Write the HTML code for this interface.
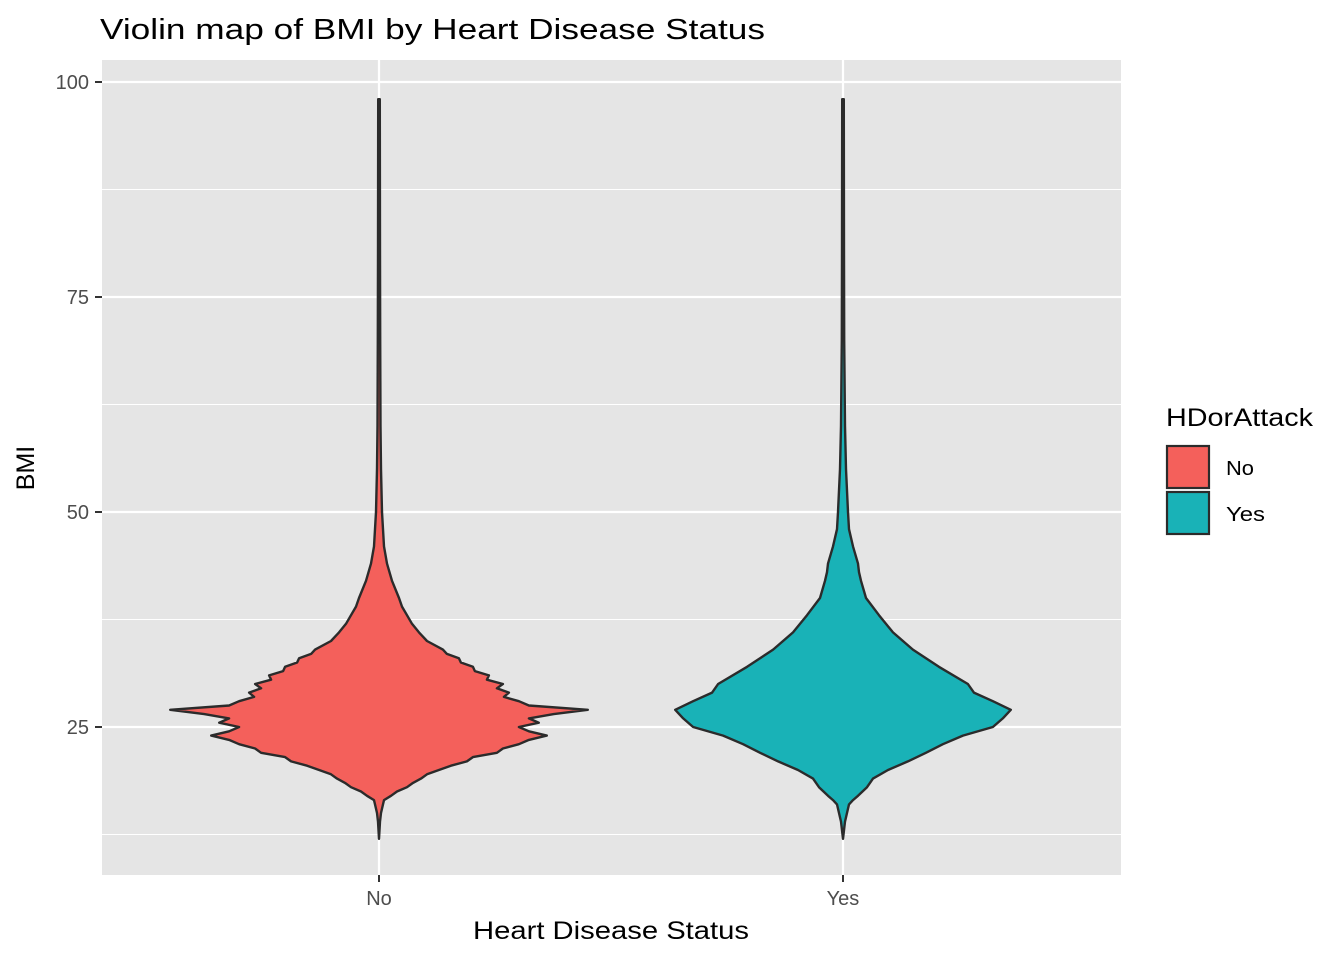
<!DOCTYPE html>
<html><head><meta charset="utf-8"><style>
body{margin:0;background:#fff;}
svg text{font-family:"Liberation Sans",Arial,sans-serif;}
</style></head><body>
<svg id="chart" width="1344" height="960" xmlns="http://www.w3.org/2000/svg">
<rect x="0" y="0" width="1344" height="960" fill="#fff"/>
<text x="100" y="39" font-size="29" textLength="665" lengthAdjust="spacingAndGlyphs" fill="#000">Violin map of BMI by Heart Disease Status</text>
<rect x="102" y="60" width="1019" height="815" fill="#e5e5e5"/>
<g id="grid"></g>
<g id="violins"></g>
<g id="axes"></g>
<text x="611" y="939" font-size="25" text-anchor="middle" textLength="276" lengthAdjust="spacingAndGlyphs" fill="#000">Heart Disease Status</text>
<text transform="translate(34,468) rotate(-90)" font-size="25" text-anchor="middle" fill="#000">BMI</text>
<g>
<text x="1166" y="426" font-size="25" textLength="147" lengthAdjust="spacingAndGlyphs" fill="#000">HDorAttack</text>
<rect x="1167" y="446" width="42" height="42" fill="#f4605b" stroke="#2b2b2b" stroke-width="2.2"/>
<text x="1226" y="475" font-size="20" textLength="28" lengthAdjust="spacingAndGlyphs" fill="#000">No</text>
<rect x="1167" y="492" width="42" height="42" fill="#19b2b7" stroke="#2b2b2b" stroke-width="2.2"/>
<text x="1226" y="521" font-size="20" textLength="39" lengthAdjust="spacingAndGlyphs" fill="#000">Yes</text>
</g>
</svg>
<script>
const categories = ["No","Yes"];
const yTicks = [25,50,75,100];
const yMinor = [12.5,37.5,62.5,87.5];
const bmiNo = [12,14,15,16,16.5,17,17.5,18,18.5,19,19.5,20,20.5,21,21.5,22,22.5,23,23.5,24,24.5,25,25.5,26,26.5,27,27.5,28,28.5,29,29.5,30,30.5,31,31.5,32,32.5,33,33.5,34,35,36,37,38,39,40,42,44,46,48,50,55,60,70,80,98];
const densityNo = [0,1,2,4,5,12,18,28,34,42,48,60,72,88,94,118,124,140,150,168,150,140,160,150,175,209,150,140,125,130,118,124,108,110,96,94,82,80,68,64,48,40,33,28,23,20,13,8,5,4,3,2,1.5,1.2,1,0.8];
const bmiYes = [12,14,16,16.5,17,18,19,20,21,22,23,24,25,26,27,28,29,30,32,34,36,38,40,42,43,44,46,48,50,55,60,70,80,98];
const densityYes = [0,2,6,10,15,24,30,45,65,83,100,120,150,160,168,150,131,125,96,70,50,36,23,18,16,15,10,6,5,3,2,1.2,1,0.8];
const fills = ["#f4605b","#19b2b7"];
const SVGNS="http://www.w3.org/2000/svg";
const panel={x0:102,x1:1121,y0:60,y1:875};
const yScale=v=>727-(v-25)*8.6;
const band=464;
const xScale=i=>379+i*band;
const maxD=Math.max(...densityNo,...densityYes);
const wScale=d=>d/maxD*0.45*band;
function mk(tag,attrs,parent){const e=document.createElementNS(SVGNS,tag);for(const k in attrs)e.setAttribute(k,attrs[k]);parent.appendChild(e);return e;}
const grid=document.getElementById('grid');
yMinor.forEach(v=>{
  const l=mk('line',{x1:panel.x0,x2:panel.x1,y1:yScale(v),y2:yScale(v),stroke:'#fff','stroke-width':1.1},grid);
  
  
});
yTicks.forEach(v=>{
  const l=mk('line',{x1:panel.x0,x2:panel.x1,y1:yScale(v),y2:yScale(v),stroke:'#fff','stroke-width':2.2},grid);
  
  
});
categories.forEach((c,i)=>{
  const l=mk('line',{x1:xScale(i),x2:xScale(i),y1:panel.y0,y2:panel.y1,stroke:'#fff','stroke-width':2.2},grid);
  
  
});
const vg=document.getElementById('violins');
[[bmiNo,densityNo],[bmiYes,densityYes]].forEach(([b,d],i)=>{
  const cx=xScale(i);
  let right=b.map((v,k)=>[cx+wScale(d[k]),yScale(v)]);
  let left=b.map((v,k)=>[cx-wScale(d[k]),yScale(v)]).reverse();
  const pts=right.concat(left);
  const dstr='M'+pts.map(p=>p[0].toFixed(1)+','+p[1].toFixed(1)).join('L')+'Z';
  const p=mk('path',{d:dstr,fill:fills[i],stroke:'#2b2b2b','stroke-width':2.4,'stroke-linejoin':'round'},vg);
  
  
});
const ax=document.getElementById('axes');
yTicks.forEach(v=>{
  const t=mk('line',{x1:95,x2:102,y1:yScale(v),y2:yScale(v),stroke:'#333','stroke-width':2},ax);
  
  
  const tx=mk('text',{x:89,y:yScale(v)+7,'font-size':20,'text-anchor':'end',fill:'#4d4d4d'},ax);
  tx.textContent=v;
  
  
});
categories.forEach((c,i)=>{
  const t=mk('line',{x1:xScale(i),x2:xScale(i),y1:875,y2:882,stroke:'#333','stroke-width':2},ax);
  
  
  const tx=mk('text',{x:xScale(i),y:905,'font-size':20,'text-anchor':'middle',fill:'#4d4d4d'},ax);
  tx.textContent=c;
  
  
});
</script>
</body></html>
